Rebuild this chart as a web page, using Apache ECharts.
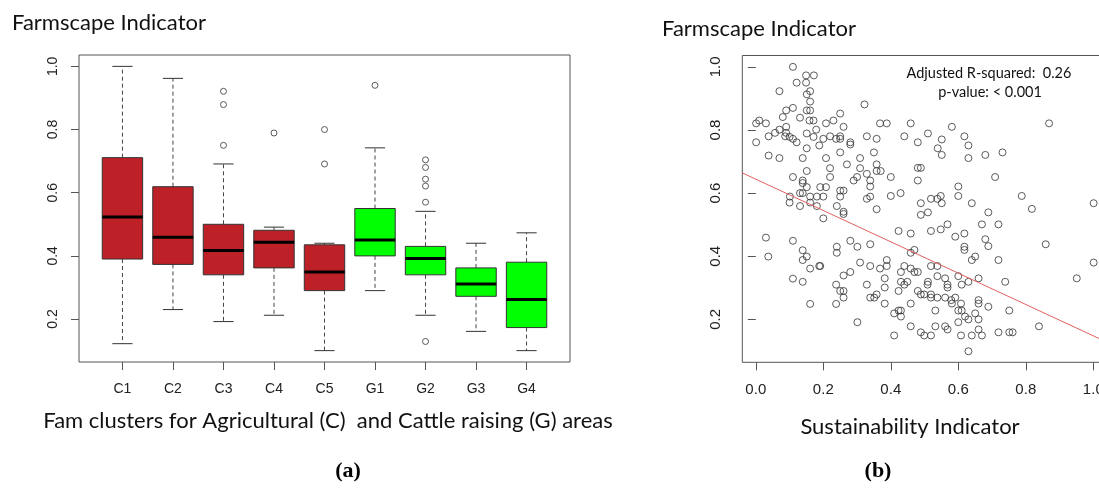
<!DOCTYPE html>
<html><head><meta charset="utf-8">
<script src="https://cdn.jsdelivr.net/npm/echarts@6/dist/echarts.min.js"></script>
<style>html,body{margin:0;padding:0;background:#fff}#c{width:1099px;height:488px}</style>
</head><body><div id="c"></div>
<script>
// ---------- Panel (a): box plots ----------
const categories   = ['C1','C2','C3','C4','C5','G1','G2','G3','G4'];
const whiskerLow   = [0.122, 0.230, 0.192, 0.212, 0.100, 0.290, 0.212, 0.161, 0.100];
const quartile1    = [0.390, 0.373, 0.340, 0.362, 0.290, 0.400, 0.340, 0.272, 0.173];
const medians      = [0.523, 0.459, 0.417, 0.443, 0.349, 0.450, 0.392, 0.311, 0.262];
const quartile3    = [0.711, 0.619, 0.500, 0.481, 0.435, 0.550, 0.430, 0.362, 0.380];
const whiskerHigh  = [1.000, 0.962, 0.691, 0.491, 0.440, 0.742, 0.541, 0.440, 0.473];
const outliers = [
  ['C3',0.921],['C3',0.879],['C3',0.750],
  ['C4',0.789],
  ['C5',0.800],['C5',0.691],
  ['G1',0.940],
  ['G2',0.704],['G2',0.680],['G2',0.643],['G2',0.621],['G2',0.570],['G2',0.129]
];
const leftYTicks = [0.2, 0.4, 0.6, 0.8, 1.0];

// ---------- Panel (b): scatter ----------
const scatterPoints = [
[0.110,1.000],[0.149,0.973],[0.172,0.973],[0.121,0.950],[0.149,0.950],[0.070,0.923],[0.161,0.923],[0.151,0.913],[0.161,0.890],[0.322,0.881],[0.110,0.870],[0.090,0.862],[0.151,0.862],[0.161,0.862],[0.080,0.841],[0.131,0.839],[0.250,0.852],[0.159,0.830],[0.171,0.830],[0.230,0.830],[0.010,0.830],[0.001,0.821],[0.030,0.821],[0.208,0.821],[0.368,0.821],[0.260,0.810],[0.090,0.810],[0.070,0.801],[0.179,0.801],[0.057,0.791],[0.090,0.791],[0.151,0.789],[0.038,0.780],[0.087,0.780],[0.100,0.778],[0.171,0.778],[0.220,0.780],[0.238,0.772],[0.250,0.772],[0.200,0.772],[0.250,0.780],[0.329,0.780],[0.358,0.772],[0.110,0.772],[0.121,0.761],[0.001,0.761],[0.280,0.761],[0.280,0.754],[0.188,0.751],[0.151,0.742],[0.250,0.729],[0.350,0.729],[0.038,0.719],[0.070,0.711],[0.139,0.711],[0.208,0.711],[0.309,0.711],[0.270,0.691],[0.358,0.691],[0.220,0.679],[0.309,0.679],[0.358,0.670],[0.151,0.670],[0.110,0.651],[0.220,0.651],[0.300,0.651],[0.329,0.661],[0.290,0.640],[0.139,0.640],[0.139,0.632],[0.339,0.640],[0.339,0.621],[0.151,0.619],[0.191,0.619],[0.208,0.619],[0.131,0.600],[0.139,0.600],[0.250,0.608],[0.260,0.608],[0.101,0.589],[0.161,0.589],[0.181,0.589],[0.200,0.589],[0.250,0.589],[0.339,0.589],[0.329,0.582],[0.100,0.570],[0.161,0.570],[0.131,0.559],[0.181,0.559],[0.240,0.559],[0.260,0.541],[0.260,0.534],[0.200,0.520],[0.358,0.549],
[0.388,0.821],[0.459,0.821],[0.581,0.810],[0.869,0.821],[0.440,0.780],[0.510,0.789],[0.480,0.761],[0.551,0.770],[0.618,0.780],[0.630,0.751],[0.539,0.742],[0.551,0.721],[0.630,0.711],[0.680,0.721],[0.731,0.729],[0.480,0.680],[0.489,0.680],[0.370,0.670],[0.400,0.651],[0.480,0.640],[0.709,0.651],[0.600,0.621],[0.400,0.591],[0.429,0.600],[0.489,0.568],[0.519,0.582],[0.538,0.582],[0.548,0.591],[0.551,0.568],[0.600,0.591],[0.640,0.568],[0.788,0.591],[0.818,0.550],[1.001,0.568],[0.489,0.531],[0.510,0.539],[0.689,0.539],[0.568,0.501],[0.670,0.501],[0.719,0.501],[0.423,0.480],[0.459,0.472],[0.519,0.480],[0.548,0.485],[0.591,0.462],[0.618,0.472],[0.680,0.454],
[0.030,0.459],[0.110,0.449],[0.037,0.399],[0.139,0.419],[0.139,0.388],[0.151,0.399],[0.161,0.361],[0.188,0.369],[0.191,0.369],[0.110,0.329],[0.139,0.319],[0.161,0.249],[0.240,0.430],[0.240,0.411],[0.280,0.449],[0.301,0.430],[0.339,0.438],[0.309,0.380],[0.339,0.369],[0.368,0.361],[0.260,0.339],[0.280,0.350],[0.238,0.310],[0.329,0.310],[0.250,0.290],[0.260,0.290],[0.260,0.269],[0.339,0.269],[0.351,0.269],[0.358,0.279],[0.238,0.249],[0.301,0.191],
[0.689,0.432],[0.618,0.430],[0.618,0.420],[0.459,0.411],[0.470,0.420],[0.640,0.388],[0.650,0.399],[0.719,0.388],[0.859,0.438],[1.001,0.380],[0.388,0.388],[0.388,0.369],[0.440,0.369],[0.430,0.350],[0.459,0.361],[0.470,0.350],[0.480,0.350],[0.519,0.369],[0.538,0.369],[0.382,0.330],[0.382,0.301],[0.430,0.319],[0.440,0.310],[0.449,0.319],[0.509,0.310],[0.510,0.319],[0.538,0.337],[0.561,0.330],[0.568,0.310],[0.568,0.301],[0.600,0.337],[0.610,0.310],[0.630,0.319],[0.660,0.330],[0.739,0.319],[0.951,0.330],[0.423,0.290],[0.480,0.290],[0.489,0.279],[0.499,0.279],[0.519,0.269],[0.519,0.279],[0.538,0.269],[0.561,0.269],[0.579,0.261],[0.581,0.250],[0.591,0.269],[0.608,0.250],[0.660,0.261],[0.660,0.250],[0.689,0.240],[0.382,0.250],[0.410,0.219],[0.423,0.228],[0.430,0.228],[0.430,0.209],[0.459,0.250],[0.532,0.228],[0.600,0.228],[0.610,0.228],[0.620,0.209],[0.630,0.200],[0.650,0.219],[0.660,0.200],[0.751,0.228],[0.600,0.191],[0.459,0.178],[0.532,0.178],[0.561,0.178],[0.568,0.168],[0.660,0.168],[0.839,0.178],[0.489,0.159],[0.499,0.149],[0.519,0.149],[0.410,0.149],[0.608,0.149],[0.640,0.149],[0.670,0.149],[0.719,0.159],[0.751,0.159],[0.761,0.159],[0.630,0.099]
];
const regressionLine = [[-0.04, 0.664], [1.04, 0.128]];
const rightXTicks = [0.0, 0.2, 0.4, 0.6, 0.8, 1.0];
const rightYTicks = [0.2, 0.4, 0.6, 0.8, 1.0];

// ---------- styling ----------
const RED = '#bd2027', GREEN = '#00ff00';
const BOX_WIDTH = 0.8;
const TICK_FONT = 'Liberation Sans, Arial, sans-serif';
const TEXT_FONT = 'Lato, Carlito, "Open Sans", sans-serif';
const TEXT_COLOR = '#111';

const boxRows = categories.map((c, i) => [i + 1, whiskerLow[i], quartile1[i], medians[i], quartile3[i], whiskerHigh[i]]);
const outlierRows = outliers.map(o => [categories.indexOf(o[0]) + 1, o[1]]);

function renderBox(params, api) {
  const x = api.value(0);
  const lo = api.coord([x, api.value(1)]);
  const q1 = api.coord([x, api.value(2)]);
  const md = api.coord([x, api.value(3)]);
  const q3 = api.coord([x, api.value(4)]);
  const hi = api.coord([x, api.value(5)]);
  const bw = api.size([BOX_WIDTH, 0])[0];
  const h = bw / 2, cap = bw / 4;
  const cx = lo[0];
  const fill = categories[x - 1].charAt(0) === 'C' ? RED : GREEN;
  const dash = { stroke: '#444', lineWidth: 1, lineDash: [4, 3] };
  const solid = { stroke: '#333', lineWidth: 1 };
  return { type: 'group', children: [
    { type: 'line', shape: { x1: cx, y1: q3[1], x2: cx, y2: hi[1] }, style: dash },
    { type: 'line', shape: { x1: cx, y1: q1[1], x2: cx, y2: lo[1] }, style: dash },
    { type: 'line', shape: { x1: cx - cap, y1: hi[1], x2: cx + cap, y2: hi[1] }, style: solid },
    { type: 'line', shape: { x1: cx - cap, y1: lo[1], x2: cx + cap, y2: lo[1] }, style: solid },
    { type: 'rect', shape: { x: cx - h, y: q3[1], width: bw, height: q1[1] - q3[1] }, style: { fill: fill, stroke: '#333', lineWidth: 1 } },
    { type: 'line', shape: { x1: cx - h, y1: md[1], x2: cx + h, y2: md[1] }, style: { stroke: '#000', lineWidth: 3 } }
  ]};
}

function axisCommon() {
  return {
    axisLine: { show: false },
    splitLine: { show: false }
  };
}

const chart = echarts.init(document.getElementById('c'));
chart.setOption({
  animation: false,
  backgroundColor: '#fff',
  grid: [
    { left: 79, top: 55, width: 491, height: 307, show: true, borderColor: '#555', borderWidth: 1, backgroundColor: 'transparent', containLabel: false, outerBoundsMode: 'none' },
    { left: 742.3, top: 55.5, width: 364.5, height: 306.8, show: true, borderColor: '#555', borderWidth: 1, backgroundColor: 'transparent', containLabel: false, outerBoundsMode: 'none' }
  ],
  xAxis: [
    Object.assign(axisCommon(), {
      type: 'value', gridIndex: 0, min: 0.14, max: 9.86,
      axisTick: { show: true, length: 8, lineStyle: { color: '#555' }, customValues: categories.map((c, i) => i + 1) },
      axisLabel: { margin: 20, fontSize: 14, color: '#222', fontFamily: TICK_FONT,
        customValues: categories.map((c, i) => i + 1),
        formatter: v => categories[Math.round(v) - 1] }
    }),
    Object.assign(axisCommon(), {
      type: 'value', gridIndex: 1, min: -0.04, max: 1.04,
      axisTick: { show: true, length: 8, lineStyle: { color: '#555' }, customValues: rightXTicks },
      axisLabel: { margin: 20, fontSize: 15, color: '#222', fontFamily: TICK_FONT,
        customValues: rightXTicks, formatter: v => v.toFixed(1) }
    })
  ],
  yAxis: [
    Object.assign(axisCommon(), {
      type: 'value', gridIndex: 0, min: 0.064, max: 1.036,
      axisTick: { show: true, length: 8, lineStyle: { color: '#555' }, customValues: leftYTicks },
      axisLabel: { rotate: 90, margin: 19, fontSize: 14, color: '#222', fontFamily: TICK_FONT,
        customValues: leftYTicks, formatter: v => v.toFixed(1) }
    }),
    Object.assign(axisCommon(), {
      type: 'value', gridIndex: 1, min: 0.064, max: 1.036,
      axisTick: { show: true, length: 8, lineStyle: { color: '#555' }, customValues: rightYTicks },
      axisLabel: { rotate: 90, margin: 19, fontSize: 15, color: '#222', fontFamily: TICK_FONT,
        customValues: rightYTicks, formatter: v => v.toFixed(1) }
    })
  ],
  series: [
    { type: 'custom', xAxisIndex: 0, yAxisIndex: 0, data: boxRows, renderItem: renderBox,
      encode: { x: 0, y: [1, 2, 3, 4, 5] }, silent: true },
    { type: 'scatter', xAxisIndex: 0, yAxisIndex: 0, data: outlierRows, symbol: 'circle', symbolSize: 6,
      itemStyle: { color: 'rgba(0,0,0,0)', borderColor: '#333', borderWidth: 1 }, silent: true },
    { type: 'scatter', xAxisIndex: 1, yAxisIndex: 1, data: scatterPoints, symbol: 'circle', symbolSize: 7,
      itemStyle: { color: 'rgba(0,0,0,0)', borderColor: '#333', borderWidth: 1 }, silent: true },
    { type: 'line', xAxisIndex: 1, yAxisIndex: 1, data: regressionLine, showSymbol: false, symbol: 'none',
      lineStyle: { color: '#e06060', width: 1 }, z: 5, silent: true }
  ],
  graphic: [
    { type: 'text', style: { text: 'Farmscape Indicator', x: 12, y: 23, font: '22px ' + TEXT_FONT, fill: TEXT_COLOR, align: 'left', verticalAlign: 'middle' } },
    { type: 'text', style: { text: 'Farmscape Indicator', x: 662, y: 29, font: '22px ' + TEXT_FONT, fill: TEXT_COLOR, align: 'left', verticalAlign: 'middle' } },
    { type: 'text', style: { text: 'Fam clusters for Agricultural (C)  and Cattle raising (G) areas', x: 328, y: 421, font: '22px ' + TEXT_FONT, fill: TEXT_COLOR, align: 'center', verticalAlign: 'middle' } },
    { type: 'text', style: { text: 'Sustainability Indicator', x: 910, y: 427, font: '22px ' + TEXT_FONT, fill: TEXT_COLOR, align: 'center', verticalAlign: 'middle' } },
    { type: 'text', style: { text: 'Adjusted R-squared:  0.26', x: 989, y: 73, font: '14.5px ' + TEXT_FONT, fill: TEXT_COLOR, align: 'center', verticalAlign: 'middle' } },
    { type: 'text', style: { text: 'p-value: < 0.001', x: 990, y: 92, font: '14.5px ' + TEXT_FONT, fill: TEXT_COLOR, align: 'center', verticalAlign: 'middle' } },
    { type: 'text', style: { text: '(a)', x: 348, y: 471, font: 'bold 22px "Liberation Serif", "DejaVu Serif", serif', fill: '#000', align: 'center', verticalAlign: 'middle' } },
    { type: 'text', style: { text: '(b)', x: 878, y: 471, font: 'bold 22px "Liberation Serif", "DejaVu Serif", serif', fill: '#000', align: 'center', verticalAlign: 'middle' } }
  ]
});
</script>
</body></html>
